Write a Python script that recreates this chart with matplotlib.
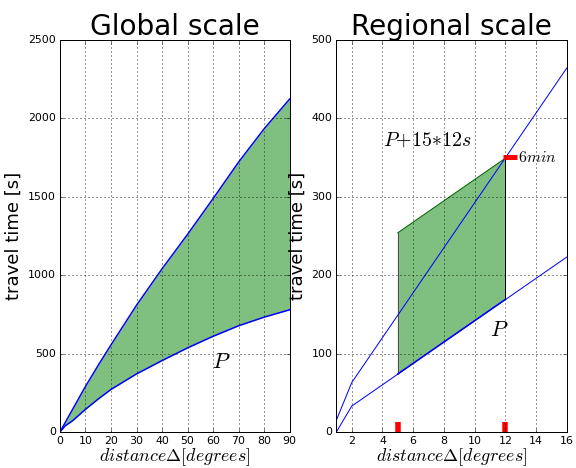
import numpy as np
import matplotlib
matplotlib.use('Agg')
import matplotlib.pyplot as plt

# ==========================================
# data
# ==========================================
# global scale: P arrival and upper bound of window
glob_dist = [0, 2, 5, 10, 15, 20, 30, 40, 50, 60, 70, 80, 90]
glob_p = [0, 38, 72, 144, 210, 271, 370, 455, 536, 610, 677, 732, 779]
glob_upper = [0, 58, 145, 290, 425, 555, 808, 1040, 1260, 1488, 1721, 1933, 2123]

# regional scale: two straight travel-time branches
reg_dist = [1, 2, 16]
reg_p = [0, 33, 223]
reg_upper = [15, 63, 464]

# window between 5 and 12 degrees, P + 15*12 s
win_dist = [5, 12]
win_p = [74, 169]
win_shift = 180

station_dist = [5, 12]
station_mark_h = 12.7
six_min = 350
six_min_span = [11.87, 12.74]

plt.style.use('classic')
plt.rcParams['figure.facecolor'] = 'white'
plt.rcParams['savefig.facecolor'] = 'white'
plt.rcParams['xtick.labelsize'] = 11
plt.rcParams['ytick.labelsize'] = 11

grid_kw = dict(color='k', linestyle=(0, (1, 3)), linewidth=0.8)

fig = plt.figure(figsize=(8, 6.5), dpi=72)
ax1 = fig.add_axes([0.104, 0.077, 0.399, 0.838])
ax2 = fig.add_axes([0.584, 0.077, 0.400, 0.838])

# ---- global scale ----
ax1.fill_between(glob_dist, glob_p, glob_upper, color='g', alpha=0.5, linewidth=0)
ax1.plot(glob_dist, glob_p, 'b-', lw=1.5)
ax1.plot(glob_dist, glob_upper, 'b-', lw=1.5)
ax1.text(63, 449, '$P$', fontsize=22, ha='center', va='center')
ax1.set_xlim(0, 90)
ax1.set_ylim(0, 2500)
ax1.set_xticks(np.arange(0, 91, 10))
ax1.set_yticks(np.arange(0, 2501, 500))
ax1.grid(True, **grid_kw)
ax1.set_title('Global scale', fontsize=28)
ax1.set_ylabel('travel time [s]', fontsize=18)
ax1.set_xlabel(r'$distance\Delta[degrees]$', fontsize=18, labelpad=0)

# ---- regional scale ----
wx = [win_dist[0], win_dist[0], win_dist[1], win_dist[1]]
wy = [win_p[0], win_p[0] + win_shift, win_p[1] + win_shift, win_p[1]]
ax2.fill(wx, wy, color='g', alpha=0.5, linewidth=0)
ax2.plot(wx[0:2], wy[0:2], color='#505050', lw=1)
ax2.plot(wx[1:3], wy[1:3], color='darkgreen', lw=1)
ax2.plot(wx[2:4], wy[2:4], color='k', lw=1)
ax2.plot(reg_dist, reg_p, 'b-', lw=1)
ax2.plot(reg_dist, reg_upper, 'b-', lw=1)
ax2.plot(win_dist, win_p, 'b-', lw=1.5)

for d in station_dist:
    ax2.plot([d, d], [0, station_mark_h], color='r', lw=5.5, solid_capstyle='butt')
ax2.plot(six_min_span, [six_min, six_min], color='r', lw=5, solid_capstyle='butt')

ax2.text(12.8, 350, '$6min$', fontsize=16, va='center', ha='left')
ax2.text(4.05, 372, '$P{+}15{*}12s$', fontsize=20, va='center', ha='left')
ax2.text(11.6, 130, '$P$', fontsize=22, ha='center', va='center')

ax2.set_xlim(1, 16)
ax2.set_ylim(0, 500)
ax2.set_xticks(np.arange(2, 17, 2))
ax2.set_yticks(np.arange(0, 501, 100))
ax2.grid(True, **grid_kw)
ax2.set_title('Regional scale', fontsize=28)
ax2.set_ylabel('travel time [s]', fontsize=18)
ax2.set_xlabel(r'$distance\Delta[degrees]$', fontsize=18, labelpad=0)

fig.savefig('out.png', dpi=72)
